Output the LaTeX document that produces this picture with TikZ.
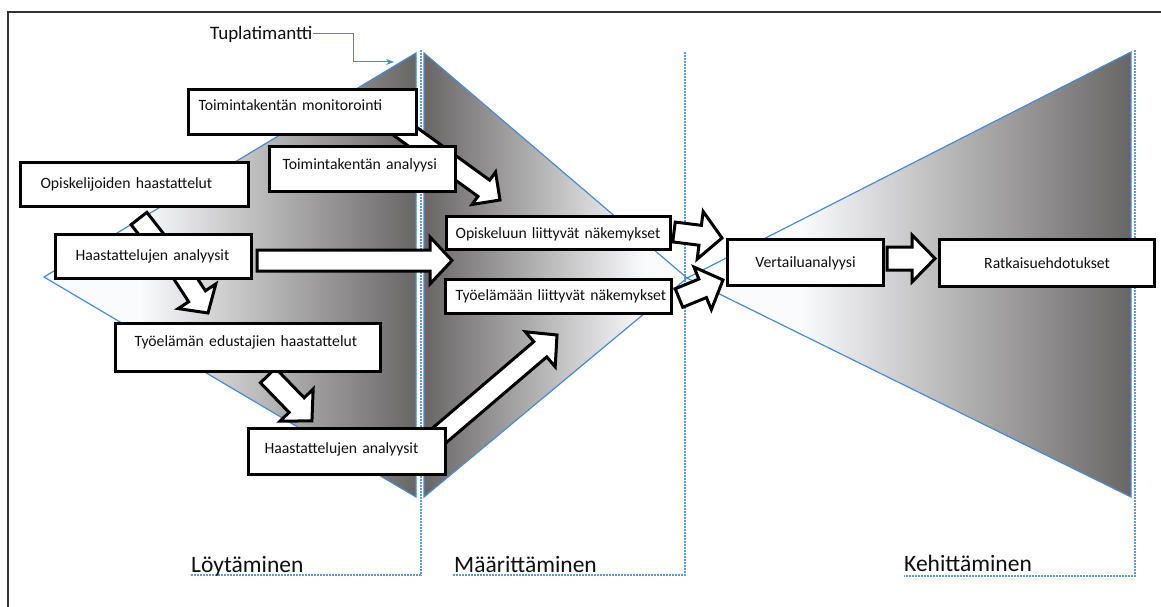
\documentclass[tikz,border=0pt]{standalone}
\usepackage{fontspec}
\setmainfont{Carlito}
\usetikzlibrary{calc,arrows.meta}
\definecolor{edgeblue}{RGB}{74,138,208}
\definecolor{dotblue}{RGB}{91,155,213}
\definecolor{darkg}{RGB}{104,101,101}
\definecolor{lightg}{RGB}{250,251,253}
\definecolor{ink}{RGB}{15,15,15}
\newdimen\bAx \newdimen\bAy \newdimen\bBx \newdimen\bBy
% block arrow from named coordinate #1 to named coordinate #2,
% half shaft width #3, half head width #4, head length #5
\newcommand\blockarr[5]{%
  \pgfextractx{\bAx}{\pgfpointanchor{#1}{center}}%
  \pgfextracty{\bAy}{\pgfpointanchor{#1}{center}}%
  \pgfextractx{\bBx}{\pgfpointanchor{#2}{center}}%
  \pgfextracty{\bBy}{\pgfpointanchor{#2}{center}}%
  \pgfmathsetmacro\bdx{\bBx-\bAx}%
  \pgfmathsetmacro\bdy{\bBy-\bAy}%
  \pgfmathsetmacro\bang{atan2(\bdy,\bdx)}%
  \pgfmathsetmacro\blen{veclen(\bdx,\bdy)}%
  \pgfmathsetmacro\bneck{\blen-#5}%
  \draw[blockarrow, shift={(\the\bAx,\the\bAy)}, rotate=\bang]
    (0pt,-#3pt) -- (\bneck pt,-#3pt) -- (\bneck pt,-#4pt) -- (\blen pt,0pt)
    -- (\bneck pt,#4pt) -- (\bneck pt,#3pt) -- (0pt,#3pt) -- cycle;
}
% box: name, x1, y1, x2, y2, pad, alignment, text, raise of the text
\newcommand\bx[9]{%
  \pgfmathsetmacro\bw{#4-#2}%
  \pgfmathsetmacro\bh{#5-#3}%
  \pgfmathsetmacro\btw{#4-#2-2*#6}%
  \pgfmathsetmacro\bdp{max(3+#9,0)}%
  \pgfmathsetmacro\bht{max(11-#9,0)}%
  \node[box, minimum width=\bw pt, minimum height=\bh pt, text width=\btw pt,
        text height=\bht pt, text depth=\bdp pt,
        inner xsep=#6pt, align=#7] (#1) at (#2,#3) {\mbox{#8}};
}
\tikzset{
  box/.style={draw=black, line width=3.2pt, fill=white, text=ink,
    font=\fontsize{15.7}{18}\selectfont, inner ysep=0pt, anchor=north west},
  blockarrow/.style={draw=black, line width=3pt, fill=white, line join=miter},
  triedge/.style={draw=edgeblue, line width=1.2pt, line join=miter},
  dotline/.style={draw=dotblue, line width=2pt, dash pattern=on 1.6pt off 1.4pt},
  phase/.style={font=\fontsize{23.5}{28}\selectfont, text=ink, anchor=base west, inner sep=0pt},
  tuplabel/.style={font=\fontsize{19}{22}\selectfont, text=ink, anchor=west, inner sep=0pt},
}
\begin{document}
\begin{tikzpicture}[x=1pt,y=-1pt]
\useasboundingbox (0,0) rectangle (1161,607);
\fill[white] (0,0) rectangle (1161,607);
% frame
\draw[line width=1.8pt, black!80] (8,607) -- (8,12) -- (1161,12);

% triangle 1 (Löytäminen)
\begin{scope}
  \clip (44,277) -- (416,53) -- (416,497) -- cycle;
  \fill[lightg] (40,40) rectangle (140,510);
  \shade[left color=lightg, right color=darkg] (140,40) rectangle (417,510);
\end{scope}
\draw[triedge] (416,497) -- (44,277) -- (416,53) -- cycle;
% triangle 2 (Määrittäminen)
\begin{scope}
  \clip (424,53) -- (687,278) -- (424,497) -- cycle;
  \shade[left color=darkg, right color=lightg] (423,40) rectangle (645,510);
  \fill[lightg] (645,40) rectangle (700,510);
\end{scope}
\draw[triedge] (424,53) -- (687,278) -- (424,497) -- cycle;
% triangle 3 (Kehittäminen)
\begin{scope}
  \clip (687,278) -- (1131,52) -- (1131,497) -- cycle;
  \fill[lightg] (680,40) rectangle (800,510);
  \shade[left color=lightg, right color=darkg] (800,40) rectangle (1132,510);
\end{scope}
\draw[triedge] (687,278) -- (1131,52) -- (1131,497) -- cycle;

% dotted phase borders
\draw[dotline] (421,50) -- (421,575) -- (190,575);
\draw[dotline] (685,52) -- (685,575) -- (453,575);
\draw[dotline] (1135,50) -- (1135,576) -- (904,576);

% phase labels
\node[phase] (p1) at (191,572) {Löytäminen};
\node[phase] (p2) at (454,572) {Määrittäminen};
\node[phase] (p3) at (904,571) {Kehittäminen};

% Tuplatimantti
\node[tuplabel] (tup) at (210,34) {Tuplatimantti};
\coordinate (tupend) at (394,62);
\draw[edgeblue, line width=1pt, -{Stealth[length=8pt,width=6pt]}]
  (tup.east) -- ++(41,0) |- (tupend);

% block arrow end points
\coordinate (aT) at (395,124);   \coordinate (aH) at (500,200);
\coordinate (bT) at (139,218.5); \coordinate (bH) at (176,266);
\coordinate (cT) at (172,258);   \coordinate (cH) at (208,313);
\coordinate (dT) at (268,375.5); \coordinate (dH) at (312,421);
\coordinate (eT) at (257,260.5); \coordinate (eH) at (452,260.5);
\coordinate (fT) at (431.6,442); \coordinate (fH) at (557,335);
\coordinate (gT) at (674,232);   \coordinate (gH) at (722,238);
\coordinate (hT) at (679,298);   \coordinate (hH) at (723,280);
\coordinate (iT) at (887,258.5); \coordinate (iH) at (935,258.5);

\blockarr{aT}{aH}{10}{20}{20}
\blockarr{bT}{bH}{10}{21}{20}
\blockarr{cT}{cH}{10}{22.5}{20}
\blockarr{dT}{dH}{10.5}{23}{22}
\blockarr{eT}{eH}{10.5}{23.5}{22}
\blockarr{fT}{fH}{10}{23}{22}
\blockarr{gT}{gH}{10}{24}{22}
\blockarr{hT}{hH}{10}{23}{22}
\blockarr{iT}{iH}{11.5}{23.5}{23}

% boxes
\bx{b1}{187}{88}{415}{133}{10}{left}{Toimintakentän monitorointi}{6}
\bx{b2}{268}{145}{454}{190}{13}{left}{Toimintakentän analyysi}{3.5}
\bx{b3}{19}{161}{247}{205}{20}{left}{Opiskelijoiden haastattelut}{0}
\bx{b4}{54}{233}{250}{277}{20}{left}{Haastattelujen analyysit}{0}
\bx{b5}{114}{322}{379}{370}{19}{left}{Työelämän edustajien haastattelut}{5}
\bx{b6}{247}{427}{444}{473}{16}{left}{Haastattelujen analyysit}{2}
\bx{b7}{445}{215}{669}{248}{9}{left}{Opiskeluun liittyvät näkemykset}{-1.5}
\bx{b8}{444}{278}{670}{312}{10}{left}{Työelämään liittyvät näkemykset}{0}
\bx{b9}{726}{238}{882}{284}{6}{center}{Vertailuanalyysi}{-1}
\bx{b10}{938}{238}{1153}{285}{6}{center}{Ratkaisuehdotukset}{-1.5}
\end{tikzpicture}
\end{document}
